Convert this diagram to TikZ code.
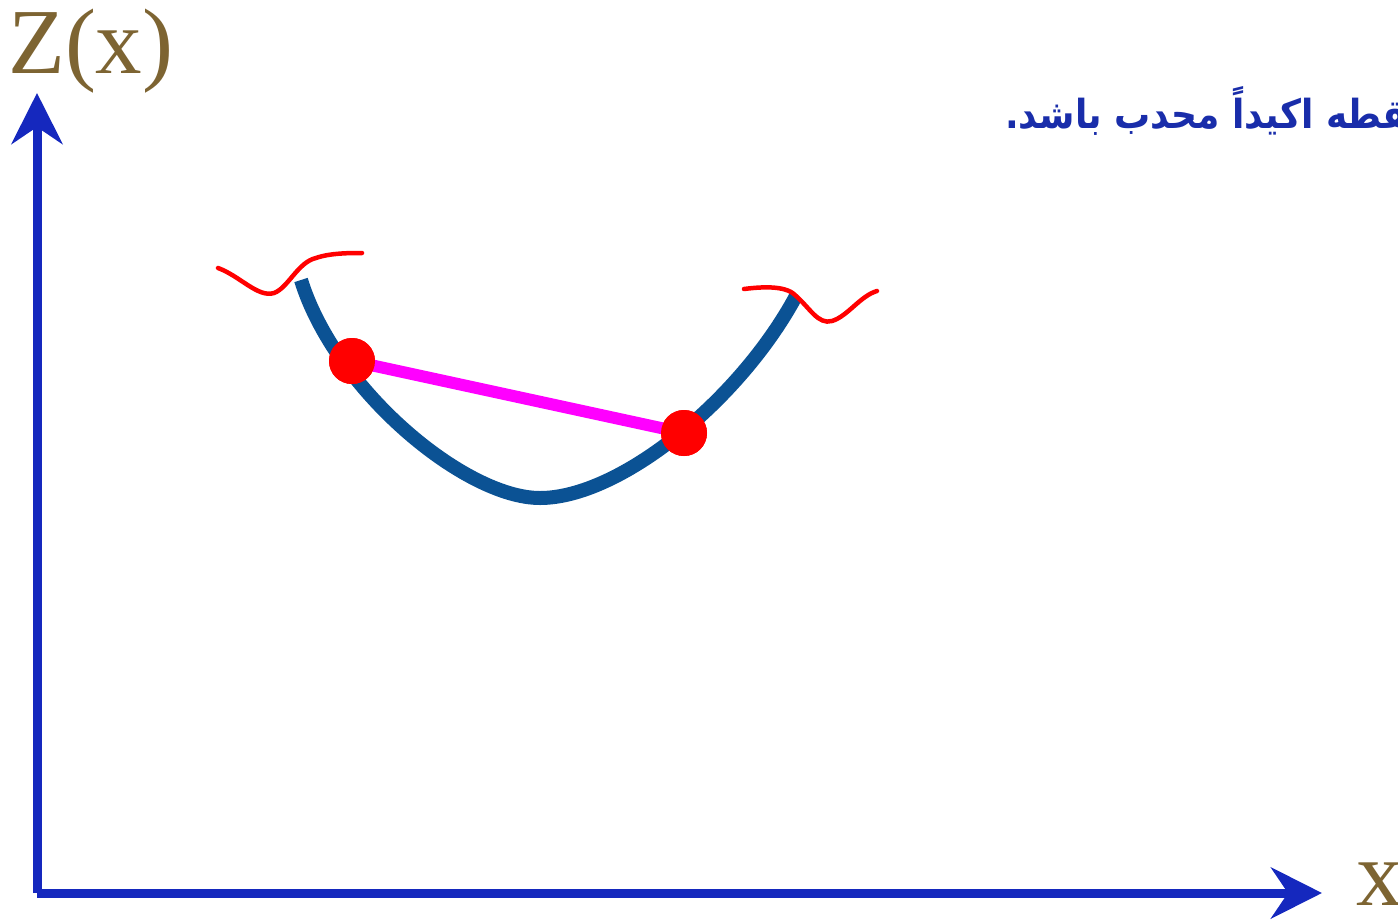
\documentclass[tikz,border=0pt]{standalone}
\usepackage{fontspec}
\setmainfont{Liberation Serif}
\newfontfamily\arabicfont[Script=Arabic,FakeStretch=0.9]{DejaVu Sans}
\TeXXeTstate=1
\usetikzlibrary{arrows.meta}
\definecolor{axisblue}{RGB}{21,40,190}
\definecolor{textblue}{RGB}{25,45,170}
\definecolor{labelbrown}{RGB}{125,100,50}
\definecolor{curveblue}{RGB}{11,82,148}
\definecolor{chordpink}{RGB}{255,0,255}
\tikzset{
  axis/.style={line width=9pt, color=axisblue, -{Stealth[length=51pt,width=51pt,inset=17pt]}},
  axlabel/.style={text=labelbrown, font=\fontsize{93}{100}\selectfont, inner sep=0pt},
  fn/.style={line width=14pt, color=curveblue},
  squig/.style={line width=4.5pt, color=red, line cap=round},
  chord/.style={line width=12pt, color=chordpink},
  pt/.style={circle, fill=red, minimum size=46pt, inner sep=0pt},
  note/.style={text=textblue, font=\arabicfont\bfseries\fontsize{40}{46}\selectfont, inner sep=0pt}
}
\begin{document}
\begin{tikzpicture}[x=1pt,y=-1pt]
\useasboundingbox (0,0) rectangle (1398,919);
\clip (0,0) rectangle (1398,919);
% axes
\coordinate (O) at (37,893);
\coordinate (ytip) at (37,93);
\coordinate (xtip) at (1322,893);
\draw[axis] (O) -- (ytip);
\draw[axis] (O) -- (xtip);
\node[axlabel, anchor=base west] (zlab) at (8,73) {Z(x)};
\node[axlabel, anchor=base west] (xlab) at (1356,905) {x};
% curve
\coordinate (cs) at (301,280);
\coordinate (cmin) at (540,498);
\coordinate (ce) at (796,296);
\draw[fn] (cs) .. controls (335,390) and (465,498) .. (cmin)
              .. controls (620,498) and (740,400) .. (ce);
% squiggles
\draw[squig] (218,268) .. controls (240,276) and (258,298) .. (274,293)
   .. controls (288,288) and (298,262) .. (316,258)
   .. controls (330,253) and (350,253) .. (362,253);
\draw[squig] (744,289) .. controls (760,287) and (785,285) .. (795,295)
   .. controls (810,308) and (818,325) .. (832,321)
   .. controls (848,316) and (860,296) .. (877,291);
% chord and points
\node[pt] (p1) at (352,361) {};
\node[pt] (p2) at (684,433) {};
\draw[chord] (p1.center) -- (p2.center);
\node[pt] at (p1) {};
\node[pt] at (p2) {};
% text
\node[note, anchor=base west] (t2) at (1005,128) {\beginR نقطه اکیداً محدب باشد.\endR};
\end{tikzpicture}
\end{document}
